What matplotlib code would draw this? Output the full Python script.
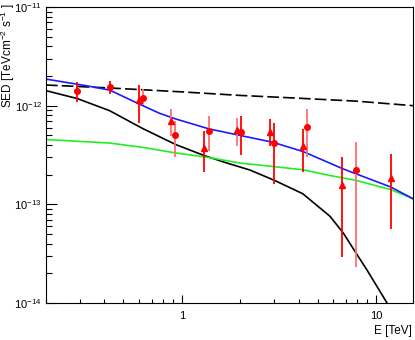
import matplotlib
matplotlib.use("Agg")
import matplotlib.pyplot as plt
from matplotlib.ticker import LogLocator, FuncFormatter, NullFormatter

plt.rcParams["font.family"] = ["Liberation Sans", "DejaVu Sans"]
plt.rcParams["mathtext.default"] = "regular"

# model curves (E in TeV, SED in TeV cm^-2 s^-1)
E_black = [0.2, 0.29, 0.425, 0.63, 0.93, 1.3, 1.71, 2.24, 3.0, 4.2, 5.8, 6.8, 7.9, 9.0, 11.4, 12.5]
sed_black = [1.42e-12, 1.18e-12, 8.9e-13, 5.86e-13, 4.04e-13, 3.13e-13, 2.62e-13, 2.23e-13,
             1.75e-13, 1.28e-13, 7.56e-14, 5.09e-14, 3.20e-14, 2.15e-14, 1.0e-14, 7.0e-15]

E_green = [0.2, 0.425, 0.63, 0.93, 1.38, 2.0, 2.94, 4.21, 5.79, 7.88, 11.9, 15.5]
sed_green = [4.54e-13, 4.18e-13, 3.78e-13, 3.32e-13, 2.98e-13, 2.62e-13, 2.42e-13, 2.24e-13,
             1.96e-13, 1.75e-13, 1.41e-13, 1.14e-13]

E_blue = [0.2, 0.324, 0.425, 0.63, 0.77, 0.93, 1.38, 2.01, 2.94, 4.21, 6.76, 7.88, 11.9, 15.5]
sed_blue = [1.86e-12, 1.59e-12, 1.44e-12, 1.0e-12, 8.36e-13, 7.34e-13, 5.82e-13, 4.98e-13,
            4.26e-13, 3.43e-13, 2.29e-13, 2.04e-13, 1.50e-13, 1.14e-13]

E_dash = [0.2, 0.43, 1.0, 2.0, 4.0, 8.0, 15.5]
sed_dash = [1.62e-12, 1.51e-12, 1.38e-12, 1.27e-12, 1.19e-12, 1.11e-12, 1.0e-12]

# data points: circles / triangles, split by error-bar shade
circ_E = [0.29, 0.425, 2.03, 2.98]
circ_y = [1.42e-12, 1.56e-12, 5.46e-13, 4.17e-13]
circ_lo = [1.08e-12, 1.32e-12, 3.13e-13, 1.62e-13]
circ_hi = [1.72e-12, 1.79e-12, 7.9e-13, 6.63e-13]

circ2_E = [0.632, 0.928, 1.38, 4.41, 7.88]
circ2_y = [1.21e-12, 5.06e-13, 5.59e-13, 6.14e-13, 2.24e-13]
circ2_lo = [1.02e-12, 3.0e-13, 3.51e-13, 3.0e-13, 2.33e-14]
circ2_hi = [1.49e-12, 7.05e-13, 7.8e-13, 9.3e-13, 4.33e-13]

tri_E = [0.602, 1.30, 2.84, 4.19, 6.70, 11.9]
tri_y = [1.14e-12, 3.74e-13, 5.46e-13, 3.94e-13, 1.56e-13, 1.85e-13]
tri_lo = [6.7e-13, 2.12e-13, 3.94e-13, 2.12e-13, 2.92e-14, 5.58e-14]
tri_hi = [1.63e-12, 5.5e-13, 7.4e-13, 5.87e-13, 2.99e-13, 3.27e-13]

tri2_E = [0.885, 1.93]
tri2_y = [6.94e-13, 5.68e-13]
tri2_lo = [4.98e-13, 3.94e-13]
tri2_hi = [9.3e-13, 7.57e-13]

x_ticks = [1, 10]
y_ticks = [1e-14, 1e-13, 1e-12, 1e-11]

fig = plt.figure(figsize=(4.15, 3.4), dpi=100)
ax = fig.add_axes([0.1108, 0.1088, 0.8843, 0.8706])

ax.plot(E_dash, sed_dash, color="black", lw=1.2, ls=(0, (7, 2.5)))
ax.plot(E_black, sed_black, color="black", lw=1.2)
ax.plot(E_green, sed_green, color="#22ee22", lw=1.2)
ax.plot(E_blue, sed_blue, color="#1a1aff", lw=1.2)


def points(E, y, lo, hi, marker, ecolor):
    yerr = [[v - l for v, l in zip(y, lo)], [h - v for v, h in zip(y, hi)]]
    ax.errorbar(E, y, yerr=yerr, fmt=marker, color="#ff0000", ecolor=ecolor,
                ms=4, elinewidth=1.3, capsize=0, zorder=5)


points(circ_E, circ_y, circ_lo, circ_hi, "o", "#ff0000")
points(circ2_E, circ2_y, circ2_lo, circ2_hi, "o", "#ff7070")
points(tri_E, tri_y, tri_lo, tri_hi, "^", "#ff0000")
points(tri2_E, tri2_y, tri2_lo, tri2_hi, "^", "#ff7070")

ax.set_xscale("log")
ax.set_yscale("log")
ax.set_xlim(0.2, 15.5)
ax.set_ylim(1e-14, 1e-11)

ax.set_xticks(x_ticks)
ax.set_yticks(y_ticks)
ax.xaxis.set_minor_locator(LogLocator(base=10, subs=range(2, 10)))
ax.xaxis.set_major_formatter(FuncFormatter(lambda v, p: f"{v:g}"))
ax.xaxis.set_minor_formatter(NullFormatter())
ax.yaxis.set_minor_locator(LogLocator(base=10, subs=range(2, 10)))
ax.yaxis.set_minor_formatter(NullFormatter())

ax.tick_params(which="both", direction="in", top=False, right=False, labelsize=8, width=0.8)
ax.tick_params(axis="x", which="major", length=6, pad=6)
ax.tick_params(axis="x", which="minor", length=3)
ax.tick_params(axis="y", which="major", length=8, pad=3)
ax.tick_params(axis="y", which="minor", length=4)
for tick in ax.yaxis.get_major_ticks():
    tick.label1.set_verticalalignment("center_baseline")
for s in ax.spines.values():
    s.set_linewidth(0.8)

fig.text(8 / 415, 1 - 4 / 340, "SED [TeVcm$^{-2}$ s$^{-1}$ ]", rotation=90,
         ha="center", va="top", fontsize=8.5)
fig.text(412 / 415, 1 - 331 / 340, "E [TeV]", ha="right", va="center", fontsize=8.5)

fig.savefig("out.png", dpi=100)
